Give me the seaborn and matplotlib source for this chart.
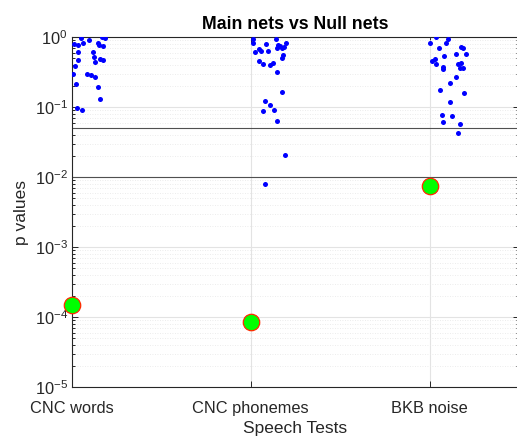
import numpy as np
import pandas as pd
import matplotlib
matplotlib.use("Agg")
import matplotlib.pyplot as plt
import seaborn as sns
from matplotlib.ticker import LogLocator, NullFormatter

# categories and main-net p values
tests = ["CNC words", "CNC phonemes", "BKB noise"]
main_p = [1.48e-4, 8.5e-5, 7.4e-3]

# null-net p values and their horizontal jitter
null_words = [0.97, 0.99, 0.97, 0.79, 0.77, 0.81, 0.906, 0.83, 0.78, 0.74,
              0.61, 0.62, 0.47, 0.51, 0.44, 0.49, 0.47, 0.385, 0.30, 0.30,
              0.29, 0.27, 0.21, 0.195, 0.13, 0.096, 0.091]
jit_words = [0.049, 0.166, 0.187, 0.011, 0.032, 0.06, 0.097, 0.146, 0.151, 0.172,
             0.034, 0.119, 0.034, 0.123, 0.129, 0.157, 0.175, 0.018, 0.004, 0.086,
             0.105, 0.129, 0.022, 0.147, 0.157, 0.03, 0.054]

null_phon = [0.936, 0.81, 0.927, 0.79, 0.77, 0.74, 0.81, 0.71, 0.67, 0.64,
             0.62, 0.64, 0.69, 0.69, 0.55, 0.50, 0.45, 0.41, 0.40, 0.43,
             0.32, 0.164, 0.123, 0.107, 0.0915, 0.0877, 0.0637, 0.0206, 0.0079]
jit_phon = [0.013, 0.015, 0.142, 0.084, 0.15, 0.164, 0.196, 0.183, 0.046, 0.056,
            0.022, 0.097, 0.146, 0.172, 0.178, 0.172, 0.046, 0.071, 0.108, 0.125,
            0.144, 0.174, 0.082, 0.11, 0.129, 0.071, 0.147, 0.19, 0.078]

null_bkb = [0.99, 0.927, 0.81, 0.81, 0.69, 0.73, 0.69, 0.57, 0.57, 0.54,
            0.46, 0.485, 0.41, 0.37, 0.346, 0.41, 0.42, 0.36, 0.365, 0.27,
            0.218, 0.175, 0.157, 0.119, 0.076, 0.0744, 0.0605, 0.0572, 0.042]
jit_bkb = [0.034, 0.105, 0.09, 0.002, 0.052, 0.174, 0.189, 0.146, 0.202, 0.08,
           0.011, 0.03, 0.034, 0.073, 0.073, 0.159, 0.174, 0.17, 0.187, 0.147,
           0.112, 0.058, 0.192, 0.114, 0.067, 0.127, 0.075, 0.17, 0.161]

# build tables
null_df = pd.concat([
    pd.DataFrame({"x": 1 + np.array(jit_words), "p": null_words}),
    pd.DataFrame({"x": 2 + np.array(jit_phon), "p": null_phon}),
    pd.DataFrame({"x": 3 + np.array(jit_bkb), "p": null_bkb}),
])
main_df = pd.DataFrame({"x": [1, 2, 3], "p": main_p})

sns.set_style("ticks")
plt.rcParams['font.family'] = ['Liberation Sans', 'DejaVu Sans']
plt.rcParams['mathtext.fontset'] = 'custom'
plt.rcParams['mathtext.rm'] = 'Liberation Sans'
plt.rcParams['mathtext.it'] = 'Liberation Sans'

txt = '#262626'
fig = plt.figure(figsize=(5.17, 4.36), dpi=100)
ax = fig.add_axes([72 / 517, 49 / 436, 447 / 517, 350 / 436])

ax.set_yscale('log')
ax.set_ylim(1e-5, 1)
ax.set_xlim(1, 3.5)

ax.grid(True, which='major', color='#e3e3e3', lw=0.8, zorder=0)
ax.yaxis.set_minor_locator(LogLocator(base=10, subs=np.arange(2, 10)))
ax.yaxis.set_minor_formatter(NullFormatter())
ax.grid(True, which='minor', axis='y', color='#e6e6e6', ls=(0, (1, 2)), lw=0.6)
ax.set_axisbelow(True)

ax.axhline(0.05, color='#505050', lw=0.8, zorder=1)
ax.axhline(0.01, color='#505050', lw=0.8, zorder=1)

sns.scatterplot(data=null_df, x="x", y="p", color="blue", s=13, linewidth=0,
                ax=ax, zorder=3)
sns.scatterplot(data=main_df, x="x", y="p", color="#00ff00", s=140,
                edgecolor="#ff2a00", linewidth=0.9, ax=ax, zorder=4, clip_on=False)

ax.set_xticks([1, 2, 3])
ax.set_xticklabels(tests)
ax.set_yticks([1e-5, 1e-4, 1e-3, 1e-2, 1e-1, 1])

ax.tick_params(which='both', direction='in', top=True, right=True, colors=txt,
               labelsize=11.8, width=0.7)
ax.tick_params(which='major', length=4)
ax.tick_params(which='minor', length=2)
ax.tick_params(axis='x', pad=10)
ax.tick_params(axis='y', pad=3)
for s in ax.spines.values():
    s.set_color(txt)
    s.set_linewidth(0.8)

ax.set_title("Main nets vs Null nets", fontsize=12.8, fontweight='bold', color='black', pad=6)
ax.set_xlabel("Speech Tests", fontsize=12.5, color=txt, labelpad=4)
ax.set_ylabel("p values", fontsize=12.5, color=txt, labelpad=4)

fig.savefig("out.png", dpi=100)
